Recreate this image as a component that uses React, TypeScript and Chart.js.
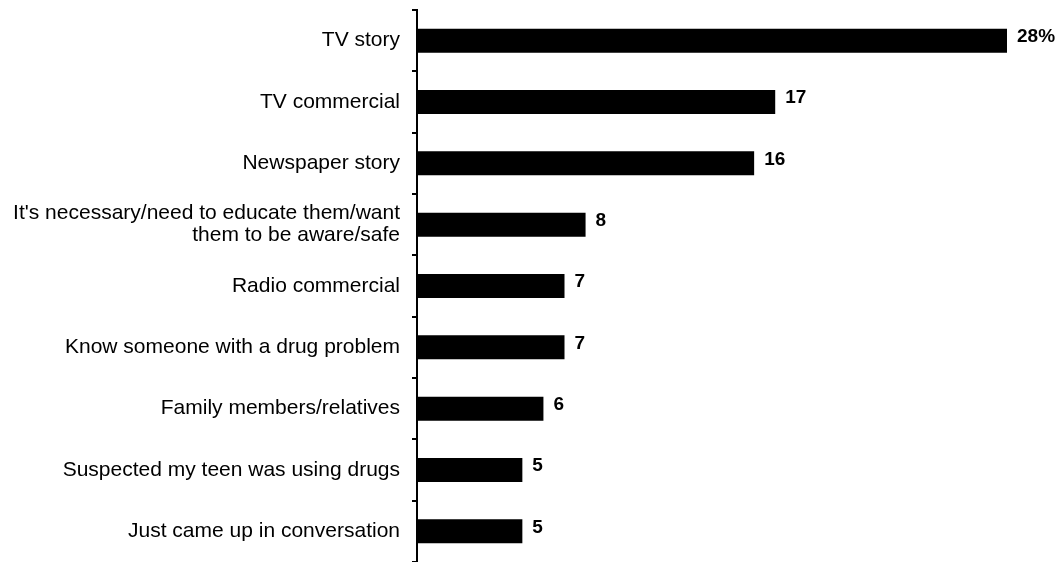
import React, { useEffect, useRef } from "react";
import { Chart, registerables } from "chart.js";

Chart.register(...registerables);

const categories: (string | string[])[] = [
  "TV story",
  "TV commercial",
  "Newspaper story",
  ["It's necessary/need to educate them/want", "them to be aware/safe"],
  "Radio commercial",
  "Know someone with a drug problem",
  "Family members/relatives",
  "Suspected my teen was using drugs",
  "Just came up in conversation",
];
const values: number[] = [28, 17, 16, 8, 7, 7, 6, 5, 5];
const valueLabels: string[] = ["28%", "17", "16", "8", "7", "7", "6", "5", "5"];

const FONT = "'Liberation Sans', Arial, sans-serif";

const valueLabelPlugin = {
  id: "valueLabels",
  afterDatasetsDraw(chart: any) {
    const ctx = chart.ctx;
    const meta = chart.getDatasetMeta(0);
    ctx.save();
    ctx.fillStyle = "#000";
    ctx.font = `bold 19px ${FONT}`;
    ctx.textAlign = "left";
    ctx.textBaseline = "middle";
    meta.data.forEach((bar: any, i: number) => {
      ctx.fillText(valueLabels[i], bar.x + 10, bar.y - 4);
    });
    ctx.restore();
  },
};

export default function App() {
  const ref = useRef<HTMLCanvasElement>(null);
  useEffect(() => {
    document.body.style.margin = "0";
    const chart = new Chart(ref.current!, {
      type: "bar",
      data: {
        labels: categories,
        datasets: [
          {
            data: values,
            backgroundColor: "#000",
            borderWidth: 0,
            barPercentage: 0.39,
            categoryPercentage: 1,
          },
        ],
      },
      options: {
        indexAxis: "y",
        animation: false,
        responsive: false,
        maintainAspectRatio: false,
        layout: { padding: { top: 10, right: 56, bottom: 0, left: 0 } },
        plugins: { legend: { display: false }, tooltip: { enabled: false } },
        scales: {
          x: { display: false, min: 0, max: 28 },
          y: {
            afterFit: (s: any) => {
              s.width = 417;
              s.paddingTop = 0;
              s.paddingBottom = 0;
            },
            grid: {
              offset: true,
              drawOnChartArea: false,
              drawTicks: true,
              tickLength: 5,
              color: "#000",
              lineWidth: 2,
            },
            border: { display: true, color: "#000", width: 2 },
            ticks: {
              color: "#000",
              padding: 12,
              font: { family: FONT, size: 21, lineHeight: 1.05 },
            },
          },
        },
      },
      plugins: [valueLabelPlugin],
    });
    return () => chart.destroy();
  }, []);
  return <canvas ref={ref} width={1063} height={562} style={{ display: "block" }} />;
}
